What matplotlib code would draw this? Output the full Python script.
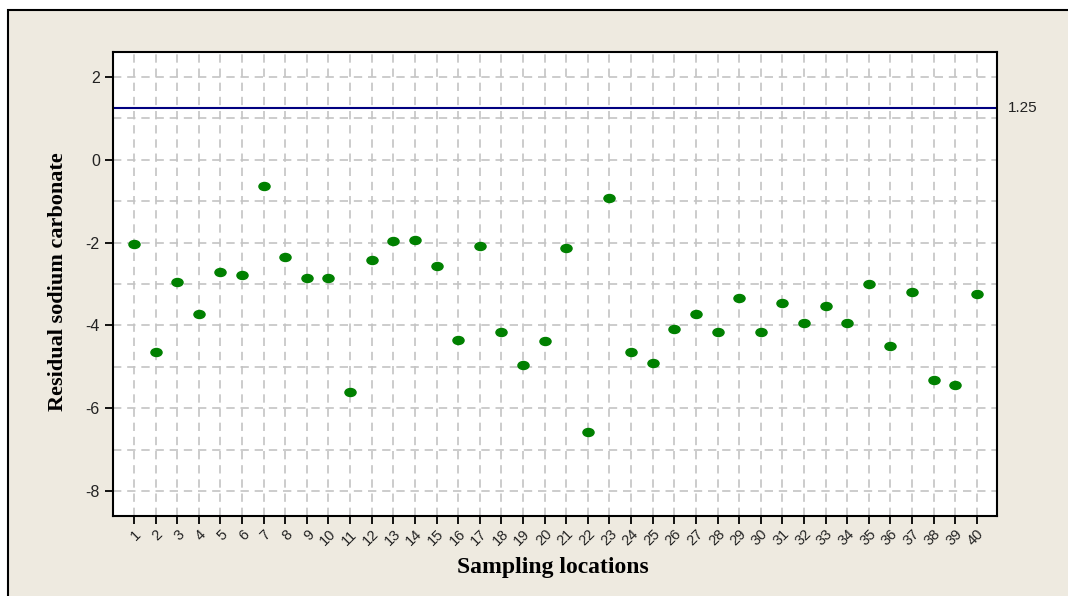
import numpy as np
import matplotlib
matplotlib.use("Agg")
import matplotlib.pyplot as plt
from matplotlib.patches import Rectangle
from matplotlib.path import Path

# residual sodium carbonate per sampling location
locations = list(range(1, 41))
rsc = [
    -2.04, -4.65, -2.94, -3.72, -2.71, -2.79, -0.63, -2.34, -2.86, -2.86,
    -5.61, -2.41, -1.97, -1.93, -2.56, -4.35, -2.08, -4.17, -4.95, -4.38,
    -2.12, -6.58, -0.93, -4.65, -4.91, -4.09, -3.72, -4.16, -3.34, -4.17,
    -3.45, -3.94, -3.53, -3.94, -3.01, -4.50, -3.20, -5.31, -5.43, -3.23,
]
limit = 1.25
yticks = [-8, -6, -4, -2, 0, 2]

plt.rcParams["font.family"] = ["Liberation Sans", "DejaVu Sans"]

W, H = 1068, 596
fig = plt.figure(figsize=(W / 100, H / 100), dpi=100)
fig.patch.set_facecolor("white")

# beige panel behind the chart
panel = Rectangle((8 / W, -0.05), 1.2, 1 - 10 / H + 0.05,
                  transform=fig.transFigure, facecolor="#eeeae0",
                  edgecolor="black", linewidth=1.5, zorder=-10)
fig.patches.append(panel)

ax = fig.add_axes([113 / W, 1 - 516 / H, (997 - 113) / W, (516 - 52) / H])
ax.set_facecolor("white")

# grid: every location and every unit on y
for x in locations:
    ax.axvline(x, color="#c4c4c4", lw=1.2, ls=(0, (5, 3.5)), zorder=1)
for y in range(-8, 3):
    ax.axhline(y, color="#c4c4c4", lw=1.2, ls=(0, (5, 3.5)), zorder=1)

ax.axhline(limit, color="#000080", lw=1.5, zorder=2)
ax.text(1.012, limit, f"{limit:.2f}", transform=ax.get_yaxis_transform(),
        va="center", ha="left", fontsize=11, color="#222222")

# slightly flattened dot marker
circle = Path.unit_circle()
ellipse = Path(circle.vertices * np.array([1.0, 0.72]), circle.codes)
ax.plot(locations, rsc, ls="none", marker=ellipse, ms=8,
        color="#008000", zorder=3)

ax.set_xlim(0.03, 40.93)
ax.set_ylim(-8.6, 2.6)
ax.set_xticks(locations)
ax.set_xticklabels([str(l) for l in locations], rotation=45,
                   ha="right", va="top", rotation_mode="anchor", fontsize=10.5)
ax.set_yticks(yticks)
ax.set_yticklabels([str(t) for t in yticks], fontsize=11.5)
ax.tick_params(axis="both", direction="out", length=6, width=1.3,
               color="black", labelcolor="#222222")
ax.tick_params(axis="x", pad=2)
for s in ax.spines.values():
    s.set_linewidth(1.5)
    s.set_color("black")

fig.text(58 / W, 1 - 282 / H, "Residual sodium carbonate", rotation=90,
         ha="center", va="center", fontsize=16, fontweight="bold",
         family="Liberation Serif")
fig.text(553 / W, 1 - 568 / H, "Sampling locations", ha="center",
         va="center", fontsize=17, fontweight="bold",
         family="Liberation Serif")

fig.savefig("out.png", dpi=100, facecolor=fig.get_facecolor())
